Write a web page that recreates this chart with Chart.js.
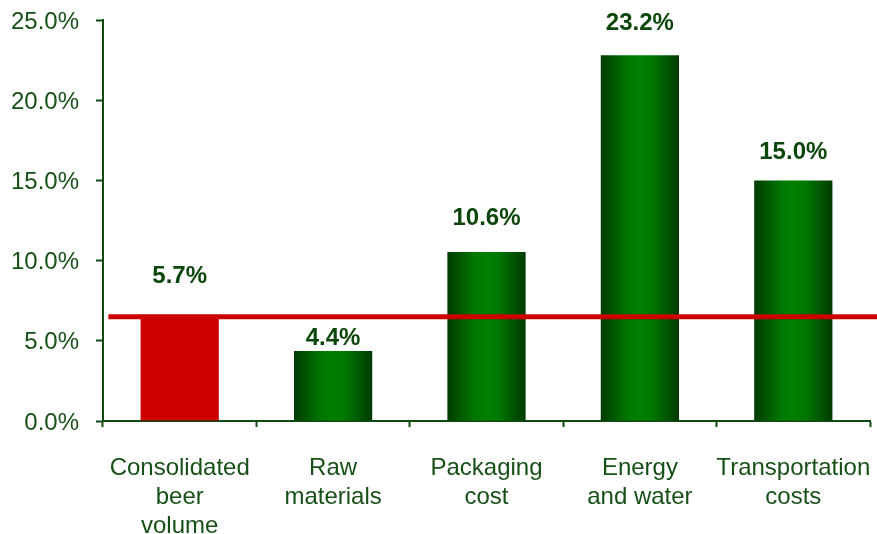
<!DOCTYPE html>
<html>
<head>
<meta charset="utf-8">
<script src="https://cdn.jsdelivr.net/npm/chart.js@4/dist/chart.umd.min.js"></script>
<style>
  html, body { margin: 0; padding: 0; background: #fff; }
  #wrap { width: 877px; height: 534px; position: relative; }
</style>
</head>
<body>
<div id="wrap"><canvas id="chart"></canvas></div>
<script>
// categories (multi-line labels)
const categories = [
    ["Consolidated", "beer", "volume"],
    ["Raw", "materials"],
    ["Packaging", "cost"],
    ["Energy", "and water"],
    ["Transportation", "costs"]
];
// bar heights
const barValues = [6.5, 4.37, 10.54, 22.8, 15.0];
// printed labels above the bars
const barLabels = ["5.7%", "4.4%", "10.6%", "23.2%", "15.0%"];
// red benchmark line
const benchmark = 6.5;
const benchmarkX = [-0.465, 4.55];
const yTicks = [0, 5, 10, 15, 20, 25];

const axisGreen = "#0f4a0f";
const textGreen = "#165016";
const labelGreen = "#0b470b";
const FONT = "'Liberation Sans', Arial, sans-serif";

// gap between bar top and the centre of its label
const labelGap = [40, 13, 34, 32, 28];

const barLabelPlugin = {
    id: "barLabels",
    afterDatasetsDraw(chart) {
        const meta = chart.getDatasetMeta(1);
        const ctx = chart.ctx;
        ctx.save();
        ctx.font = "bold 24px " + FONT;
        ctx.fillStyle = labelGreen;
        ctx.textAlign = "center";
        ctx.textBaseline = "middle";
        meta.data.forEach((bar, i) => {
            ctx.fillText(barLabels[i], bar.x, bar.y - labelGap[i]);
        });
        ctx.restore();
    }
};

function barFill(context) {
    if (context.dataIndex === 0) return "#cc0000";
    const chart = context.chart;
    const xs = chart.scales.x;
    if (!xs || !chart.chartArea) return "#007000";
    const cx = xs.getPixelForValue(context.dataIndex);
    const hw = (xs.width / categories.length) * 0.51 / 2;
    const g = chart.ctx.createLinearGradient(cx - hw, 0, cx + hw, 0);
    g.addColorStop(0, "#003a00");
    g.addColorStop(0.35, "#007800");
    g.addColorStop(0.5, "#008000");
    g.addColorStop(0.65, "#007800");
    g.addColorStop(1, "#003a00");
    return g;
}

new Chart(document.getElementById("chart"), {
    data: {
        labels: categories,
        datasets: [
            {
                type: "line",
                xAxisID: "x2",
                data: benchmarkX.map(x => ({ x: x, y: benchmark })),
                borderColor: "#cc0000",
                borderWidth: 5,
                pointRadius: 0,
                clip: false,
                order: 0
            },
            {
                type: "bar",
                data: barValues,
                backgroundColor: barFill,
                borderWidth: 0,
                grouped: false,
                barPercentage: 0.51,
                categoryPercentage: 1,
                order: 1
            }
        ]
    },
    options: {
        responsive: true,
        maintainAspectRatio: false,
        animation: false,
        layout: { padding: { top: 20, right: 7, left: 0, bottom: 0 } },
        plugins: { legend: { display: false }, tooltip: { enabled: false } },
        scales: {
            x: {
                type: "category",
                offset: true,
                grid: {
                    offset: true,
                    drawOnChartArea: false,
                    tickLength: 6,
                    tickColor: axisGreen,
                    tickWidth: 2
                },
                border: { color: axisGreen, width: 2 },
                ticks: {
                    color: textGreen,
                    font: { family: FONT, size: 24 },
                    padding: 27,
                    maxRotation: 0,
                    autoSkip: false
                },
                afterFit(scale) {
                    scale.height = 113;
                    scale.paddingLeft = 0;
                    scale.paddingRight = 0;
                }
            },
            x2: {
                type: "linear",
                display: false,
                min: -0.5,
                max: 4.5
            },
            y: {
                min: 0,
                max: 25,
                afterBuildTicks(scale) { scale.ticks = yTicks.map(v => ({ value: v })); },
                grid: {
                    drawOnChartArea: false,
                    tickLength: 7,
                    tickColor: axisGreen,
                    tickWidth: 2
                },
                border: { color: axisGreen, width: 2 },
                ticks: {
                    color: textGreen,
                    font: { family: FONT, size: 24 },
                    padding: 17,
                    labelOffset: 2,
                    callback: v => v.toFixed(1) + "%"
                },
                afterFit(scale) {
                    scale.width = 103;
                    scale.paddingTop = 0;
                    scale.paddingBottom = 0;
                }
            }
        }
    },
    plugins: [barLabelPlugin]
});
</script>
</body>
</html>
